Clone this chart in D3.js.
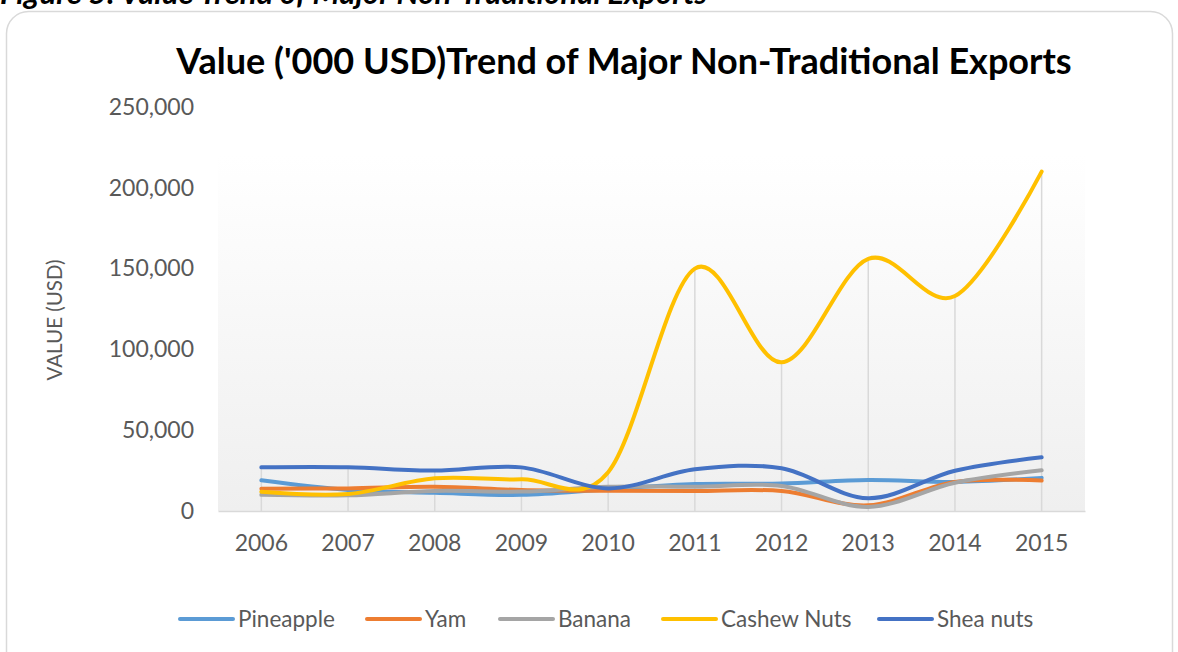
<!DOCTYPE html>
<html>
<head>
<meta charset="utf-8">
<title>Value Trend of Major Non-Traditional Exports</title>
<script src="https://cdn.jsdelivr.net/npm/d3@7"></script>
<style>
  body { margin: 0; background: #fff; }
  text { font-family: Lato, "Open Sans", sans-serif; }
</style>
</head>
<body>
<script>
// values ('000 USD)
var years = ["2006", "2007", "2008", "2009", "2010", "2011", "2012", "2013", "2014", "2015"];
var pineapple = [19000, 13000, 11300, 10000, 13500, 16700, 17000, 19200, 18000, 20500];
var yam       = [13800, 14000, 15000, 13000, 12500, 12400, 12400, 3500, 18000, 18800];
var banana    = [10000, 9700, 12400, 12000, 15000, 15000, 15500, 2500, 17500, 25200];
var cashew    = [11900, 10500, 20200, 19600, 24000, 150000, 92000, 156000, 133000, 210000];
var shea      = [27000, 27000, 25000, 27000, 14000, 25800, 26400, 7900, 24900, 33200];
var seriesNames = ["Pineapple", "Yam", "Banana", "Cashew Nuts", "Shea nuts"];
var seriesColors = ["#5b9bd5", "#ed7d31", "#a5a5a5", "#ffc000", "#4472c4"];
var yTicks = [0, 50000, 100000, 150000, 200000, 250000];

var allSeries = [pineapple, yam, banana, cashew, shea];

var W = 1178, H = 652;
var plotL = 218, plotR = 1085, plotT = 107, plotB = 511;

var svg = d3.select("body").append("svg")
    .attr("width", W)
    .attr("height", H);

// caption of the figure, cut off by the top edge
svg.append("text")
    .attr("x", 0)
    .attr("y", 4)
    .attr("font-size", 31)
    .attr("font-weight", "bold")
    .attr("font-style", "italic")
    .attr("fill", "#000")
    .text("Figure 5: Value Trend of Major Non-Traditional Exports");

// chart frame
svg.append("rect")
    .attr("x", 6.5)
    .attr("y", 11.5)
    .attr("width", 1166)
    .attr("height", 680)
    .attr("rx", 22)
    .attr("fill", "#fff")
    .attr("stroke", "#d9d9d9")
    .attr("stroke-width", 1.5);

var defs = svg.append("defs");
var grad = defs.append("linearGradient")
    .attr("id", "plotbg")
    .attr("x1", 0).attr("y1", 0).attr("x2", 0).attr("y2", 1);
grad.append("stop").attr("offset", "0%").attr("stop-color", "#ffffff");
grad.append("stop").attr("offset", "12%").attr("stop-color", "#ffffff");
grad.append("stop").attr("offset", "100%").attr("stop-color", "#efefef");

var x = d3.scaleBand().domain(years).range([plotL, plotR]);
var y = d3.scaleLinear().domain([0, 250000]).range([plotB, plotT]);

svg.append("rect")
    .attr("x", plotL)
    .attr("y", plotT)
    .attr("width", plotR - plotL)
    .attr("height", plotB - plotT)
    .attr("fill", "url(#plotbg)");

// drop lines from the highest point of each year down to the axis
svg.append("g").selectAll("line")
    .data(years)
    .join("line")
    .attr("x1", function (d) { return x(d) + x.bandwidth() / 2; })
    .attr("x2", function (d) { return x(d) + x.bandwidth() / 2; })
    .attr("y1", function (d, i) { return y(d3.max(allSeries, function (s) { return s[i]; })); })
    .attr("y2", plotB)
    .attr("stroke", "#d9d9d9")
    .attr("stroke-width", 1.5);

// x axis
var xAxis = svg.append("g")
    .attr("transform", "translate(0," + plotB + ")")
    .call(d3.axisBottom(x).tickSize(0).tickPadding(24));
xAxis.select(".domain").attr("stroke", "#d9d9d9").attr("stroke-width", 1.5);
xAxis.selectAll("text")
    .attr("font-family", "Lato, 'Open Sans', sans-serif")
    .attr("font-size", 23)
    .attr("fill", "#595959");

// y axis (labels only)
var yAxis = svg.append("g")
    .attr("transform", "translate(" + 194 + ",0)")
    .call(d3.axisLeft(y).tickValues(yTicks).tickSize(0).tickPadding(0)
        .tickFormat(d3.format(",")));
yAxis.select(".domain").remove();
yAxis.selectAll("text")
    .attr("font-family", "Lato, 'Open Sans', sans-serif")
    .attr("font-size", 23)
    .attr("fill", "#595959");

svg.append("text")
    .attr("transform", "translate(62," + 320 + ") rotate(-90)")
    .attr("text-anchor", "middle")
    .attr("font-size", 20.5)
    .attr("fill", "#595959")
    .text("VALUE (USD)");

// title
svg.append("text")
    .attr("x", 624)
    .attr("y", 74)
    .attr("text-anchor", "middle")
    .attr("font-size", 36)
    .attr("font-weight", "bold")
    .attr("fill", "#000")
    .text("Value ('000 USD)Trend of Major Non-Traditional Exports");

// lines
var line = d3.line()
    .x(function (d, i) { return x(years[i]) + x.bandwidth() / 2; })
    .y(function (d) { return y(d); })
    .curve(d3.curveCardinal.tension(0));

svg.append("g").selectAll("path")
    .data(allSeries)
    .join("path")
    .attr("d", line)
    .attr("fill", "none")
    .attr("stroke", function (d, i) { return seriesColors[i]; })
    .attr("stroke-width", 4)
    .attr("stroke-linecap", "round")
    .attr("stroke-linejoin", "round");

// legend
var legendX = [180, 367, 500, 663, 879];
var legend = svg.append("g").selectAll("g")
    .data(seriesNames)
    .join("g")
    .attr("transform", function (d, i) { return "translate(" + legendX[i] + ",619)"; });
legend.append("line")
    .attr("x1", 0).attr("x2", 53)
    .attr("y1", 0).attr("y2", 0)
    .attr("stroke", function (d, i) { return seriesColors[i]; })
    .attr("stroke-width", 4)
    .attr("stroke-linecap", "round");
legend.append("text")
    .attr("x", 58)
    .attr("y", 8)
    .attr("font-size", 22.5)
    .attr("fill", "#595959")
    .text(function (d) { return d; });
</script>
</body>
</html>
